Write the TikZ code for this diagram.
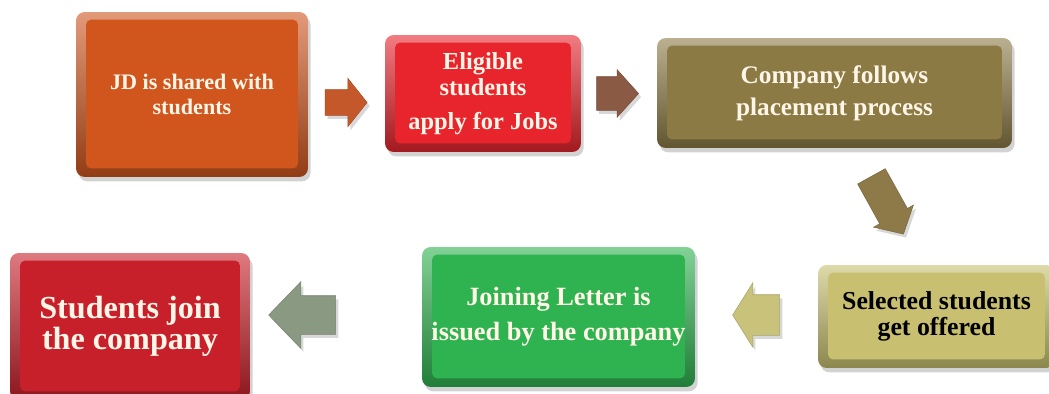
\documentclass[tikz,border=0pt]{standalone}
\usepackage{fontspec}
\setmainfont{Liberation Serif}
\usetikzlibrary{shapes.arrows,shadows}
\definecolor{cJD}{HTML}{D0561E}
\definecolor{cEl}{HTML}{E8242C}
\definecolor{cCo}{HTML}{8C7A45}
\definecolor{cSe}{HTML}{C8C070}
\definecolor{cJo}{HTML}{2EB350}
\definecolor{cSt}{HTML}{C8202A}
\definecolor{aOne}{HTML}{C5582A}
\definecolor{aTwo}{HTML}{8B5A45}
\definecolor{aThree}{HTML}{8E7A48}
\definecolor{aFour}{HTML}{C8C27A}
\definecolor{aFive}{HTML}{8A9A82}
\definecolor{cream}{HTML}{FFF6E8}
\tikzset{
  pbox/.style={rectangle, rounded corners=5pt, inner sep=0pt, align=center,
    text=cream,
    drop shadow={opacity=0.35, shadow xshift=1.5pt, shadow yshift=-2.5pt},
    top color=#1!60!white, bottom color=#1!70!black,
    path picture={\fill[#1, rounded corners=3pt]
      ([shift={(0.2cm,-0.15cm)}]path picture bounding box.north west) rectangle
      ([shift={(-0.2cm,0.17cm)}]path picture bounding box.south east);}},
  barrow/.style={single arrow, inner xsep=0pt, fill=#1, draw=#1!85!black, line width=0.3pt,
    single arrow head indent=0pt,
    drop shadow={opacity=0.3, shadow xshift=1.5pt, shadow yshift=-2pt}}
}
\begin{document}
\begin{tikzpicture}[x=0.02cm,y=-0.02cm]
\clip (0,0) rectangle (1049,393);
\fill[white] (0,0) rectangle (1049,393);

\node[pbox=cJD, minimum width=4.64cm, minimum height=3.3cm,
  font=\bfseries\fontsize{12.6}{14}\selectfont] (jd) at (192,94.5)
  {JD is shared with\\students};
\node[pbox=cEl, minimum width=3.92cm, minimum height=2.34cm,
  font=\bfseries\fontsize{13.9}{14.7}\selectfont] (el) at (483,93.5)
  {Eligible\\students\\[4.5pt]apply for Jobs};
\node[pbox=cCo, minimum width=7.1cm, minimum height=2.2cm,
  font=\bfseries\fontsize{14.4}{18}\selectfont] (co) at (834.5,93)
  {Company follows\\placement process};
\node[pbox=cSe, minimum width=4.74cm, minimum height=2.06cm, text=black,
  font=\bfseries\fontsize{14.7}{14.5}\selectfont] (se) at (936.5,316.5)
  {Selected students\\get offered};
\node[pbox=cJo, minimum width=5.46cm, minimum height=2.8cm,
  font=\bfseries\fontsize{15}{20}\selectfont] (jo) at (558.5,317)
  {Joining Letter is\\issued by the company};
\node[pbox=cSt, minimum width=4.8cm, minimum height=2.94cm,
  font=\bfseries\fontsize{18.3}{15.5}\selectfont] (st) at (130,326.5)
  {Students join\\the company};

\node[barrow=aOne, minimum height=0.84cm, inner ysep=0.25cm,
  single arrow head extend=0.23cm, single arrow tip angle=103] (a1) at (341,102.5) {};
\node[barrow=aTwo, minimum height=0.84cm, inner ysep=0.33cm,
  single arrow head extend=0.14cm, single arrow tip angle=96] (a2) at (610,93.5) {};
\node[barrow=aThree, minimum height=1.32cm, inner ysep=0.31cm,
  single arrow head extend=0.14cm, single arrow tip angle=96, rotate=-61] (a3) at (884,199) {};
\node[barrow=aFour, minimum height=0.94cm, inner ysep=0.4cm,
  single arrow head extend=0.24cm, single arrow tip angle=116, shape border rotate=180] (a4) at (762.5,315) {};
\node[barrow=aFive, minimum height=1.34cm, inner ysep=0.38cm,
  single arrow head extend=0.28cm, single arrow tip angle=92, shape border rotate=180] (a5) at (311.5,315) {};
\end{tikzpicture}
\end{document}
